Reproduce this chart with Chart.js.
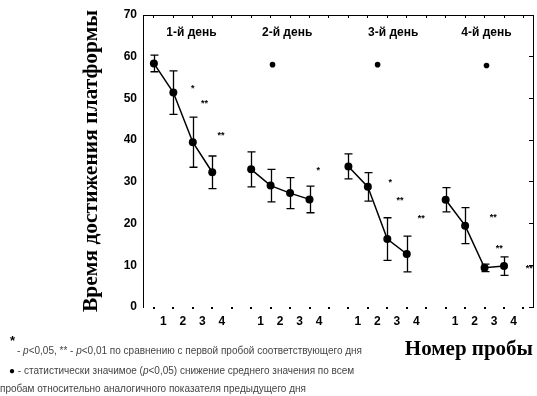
<!DOCTYPE html>
<html>
<head>
<meta charset="utf-8">
<script src="https://cdn.jsdelivr.net/npm/chart.js@4.4.1/dist/chart.umd.min.js"></script>
<style>
  html, body { margin: 0; padding: 0; background: #fff; }
  #wrap { position: relative; width: 537px; height: 396px; overflow: hidden; }
  canvas { position: absolute; left: 0; top: 0; }
  .note { position: absolute; font: 10px Arial, "Liberation Sans", sans-serif; color: #444; white-space: nowrap; line-height: 12px; }
</style>
</head>
<body>
<div id="wrap">
  <canvas id="chart" width="537" height="396"></canvas>
  <div class="note" style="left:10px;top:333px;font:bold 13px Arial, sans-serif;color:#000;">*</div>
  <div class="note" style="left:17px;top:345px;"> - <i>p</i>&lt;0,05, ** - <i>p</i>&lt;0,01 по сравнению с первой пробой соответствующего дня</div>
  <div class="note" style="left:9px;top:365px;"><span style="color:#000">●</span> - статистически значимое (<i>p</i>&lt;0,05) снижение среднего значения по всем</div>
  <div class="note" style="left:0px;top:383px;">пробам относительно аналогичного показателя предыдущего дня</div>
</div>
<script>
// tick labels on the bottom axis (one slot between days is left empty)
const tickLabels = ['1', '2', '3', '4', '', '1', '2', '3', '4', '', '1', '2', '3', '4', '', '1', '2', '3', '4', ''];
const dayNames = ['1-й день', '2-й день', '3-й день', '4-й день'];

// mean time per trial and its error, by day
const day1 = [58.4, 51.4, 39.5, 32.3];
const day2 = [33.0, 29.1, 27.3, 25.8];
const day3 = [33.7, 28.8, 16.3, 12.7];
const day4 = [25.7, 19.5, 9.4, 9.8];
const err1 = [2.0, 5.2, 6.0, 3.9];
const err2 = [4.2, 3.9, 3.7, 3.2];
const err3 = [3.0, 3.4, 5.1, 4.3];
const err4 = [2.9, 4.3, 0.9, 2.2];

// significance marks: * p<0.05, ** p<0.01 (x in slots, y in seconds)
const starX = [3.0, 3.6, 4.45, 9.45, 13.15, 13.65, 14.75, 18.45, 18.75, 20.3];
const starY = [52.4, 48.8, 41.0, 32.6, 29.8, 25.6, 21.1, 21.4, 14.1, 9.3];
const starText = ['*', '**', '**', '*', '*', '**', '**', '**', '**', '**'];

// filled dots: drop vs previous day
const dotX = [7.1, 12.5, 18.1];
const dotY = [58.1, 58.1, 57.9];

const dayLabelX = [2.93, 7.85, 13.3, 18.1];
const dayLabelY = 65.7;

const days = [day1, day2, day3, day4];
const errs = [err1, err2, err3, err4];
// first slot of each day on the x axis
const dayStart = [1, 6, 11, 16];

const datasets = days.map((vals, d) => ({
  data: vals.map((v, i) => ({ x: dayStart[d] + i, y: v })),
  borderColor: '#000',
  backgroundColor: '#000',
  borderWidth: 1.5,
  pointRadius: 4,
  pointBorderWidth: 0,
  tension: 0
}));
datasets.push({
  data: dotX.map((v, i) => ({ x: v, y: dotY[i] })),
  showLine: false,
  backgroundColor: '#000',
  pointRadius: 2.8,
  pointBorderWidth: 0
});

const extras = {
  id: 'extras',
  beforeDatasetsDraw(chart) {
    const { ctx, scales: { x, y } } = chart;
    ctx.save();
    ctx.strokeStyle = '#000';
    ctx.lineWidth = 1.3;
    days.forEach((vals, d) => {
      vals.forEach((v, i) => {
        const px = Math.round(x.getPixelForValue(dayStart[d] + i)) + 0.5;
        const top = y.getPixelForValue(v + errs[d][i]);
        const bot = y.getPixelForValue(v - errs[d][i]);
        ctx.beginPath();
        ctx.moveTo(px, top); ctx.lineTo(px, bot);
        ctx.moveTo(px - 4, top); ctx.lineTo(px + 4, top);
        ctx.moveTo(px - 4, bot); ctx.lineTo(px + 4, bot);
        ctx.stroke();
      });
    });
    ctx.restore();
  },
  afterDraw(chart) {
    const { ctx, scales: { x, y } } = chart;
    ctx.save();
    ctx.fillStyle = '#000';
    ctx.textAlign = 'center';
    ctx.textBaseline = 'middle';
    ctx.font = 'bold 9px Arial, "Liberation Sans", sans-serif';
    starX.forEach((sx, i) => {
      ctx.fillText(starText[i], x.getPixelForValue(sx), y.getPixelForValue(starY[i]));
    });
    ctx.font = 'bold 12px Arial, "Liberation Sans", sans-serif';
    dayNames.forEach((t, i) => {
      ctx.fillText(t, x.getPixelForValue(dayLabelX[i]), y.getPixelForValue(dayLabelY));
    });
    ctx.restore();
  }
};

const slotTicks = s => { s.ticks = tickLabels.map((t, i) => ({ value: i + 1 })); };

new Chart(document.getElementById('chart'), {
  type: 'line',
  data: { datasets },
  plugins: [extras],
  options: {
    responsive: false,
    animation: false,
    layout: { padding: 0 },
    plugins: { legend: { display: false }, tooltip: { enabled: false } },
    scales: {
      x: {
        type: 'linear',
        position: 'bottom',
        min: 0.44,
        max: 20.49,
        afterBuildTicks: slotTicks,
        afterFit: s => { s.height = 89; },
        border: { display: false },
        grid: { drawOnChartArea: false, drawTicks: true, tickLength: 2, lineWidth: 2, color: '#000' },
        ticks: {
          autoSkip: false,
          maxRotation: 0,
          padding: 5,
          labelOffset: 9.5,
          color: '#000',
          font: { family: 'Arial, "Liberation Sans", sans-serif', size: 12, weight: 'bold' },
          callback: (v, i) => tickLabels[i]
        },
        title: {
          display: true,
          text: 'Номер пробы',
          align: 'end',
          color: '#000',
          padding: { top: 0, bottom: 34 },
          font: { family: '"Liberation Serif", "Times New Roman", serif', size: 21, weight: 'bold' }
        }
      },
      x2: {
        type: 'linear',
        position: 'top',
        min: 0.44,
        max: 20.49,
        afterBuildTicks: slotTicks,
        afterFit: s => { s.height = 15; },
        border: { display: true, color: '#000', width: 1 },
        grid: { drawOnChartArea: false, drawTicks: true, tickLength: -3, color: '#000' },
        ticks: { display: false }
      },
      y: {
        position: 'left',
        min: 0,
        max: 70,
        afterFit: s => { s.width = 143; },
        border: { display: true, color: '#000', width: 1 },
        grid: { display: false, drawTicks: false },
        ticks: {
          stepSize: 10,
          padding: 6,
          color: '#000',
          font: { family: 'Arial, "Liberation Sans", sans-serif', size: 12, weight: 'bold' }
        },
        title: {
          display: true,
          text: 'Время достижения платформы',
          color: '#000',
          padding: { top: 79, bottom: 0 },
          font: { family: '"Liberation Serif", "Times New Roman", serif', size: 21.5, weight: 'bold' }
        }
      },
      y2: {
        position: 'right',
        min: 0,
        max: 70,
        afterFit: s => { s.width = 3; },
        border: { display: true, color: '#000', width: 1 },
        grid: { drawOnChartArea: false, drawTicks: true, tickLength: -4, color: '#000' },
        ticks: { display: false, stepSize: 10 }
      }
    }
  }
});
</script>
</body>
</html>
